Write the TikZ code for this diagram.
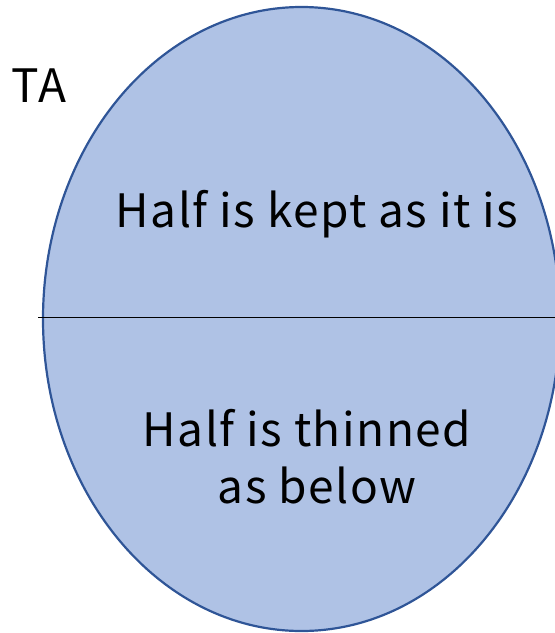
\documentclass[tikz,border=0pt]{standalone}
\usepackage{fontspec}
\setmainfont[LetterSpace=3.3]{Noto Sans CJK JP}
\definecolor{cellfill}{RGB}{175,194,229}
\definecolor{celledge}{RGB}{47,85,151}
\begin{document}
\begin{tikzpicture}[x=1pt,y=-1pt,
  lbl/.style={font=\fontsize{46}{58}\selectfont, inner sep=0pt, anchor=base, text=black}]
\useasboundingbox (0,0) rectangle (555,633);
\begin{scope}
  \clip (0,0) rectangle (555,633);
  % the cell
  \draw[fill=cellfill, draw=celledge, line width=2.2pt] (301.5,319) ellipse [x radius=258.5, y radius=312];
  % dividing line
  \coordinate (divL) at (38,317);
  \coordinate (divR) at (556,317);
  \draw[black, line width=1pt] (divL) -- (divR);
\end{scope}
\node[lbl] (ta) at (39,102) {TA};
\node[lbl] (kept) at (317,227) {Half is kept as it is};
\node[lbl] (thin1) at (307,446) {Half is thinned};
\node[lbl] (thin2) at (317,503) {as below};
\end{tikzpicture}
\end{document}
